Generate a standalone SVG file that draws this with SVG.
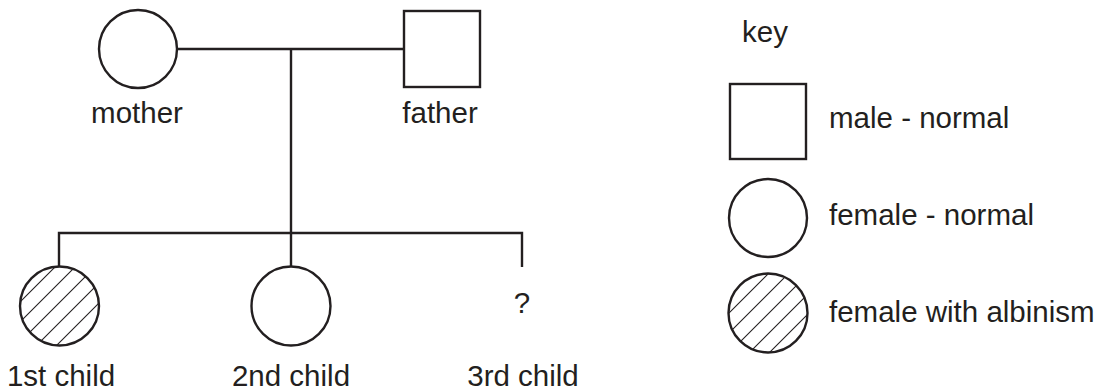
<svg xmlns="http://www.w3.org/2000/svg" width="1100" height="392" viewBox="0 0 1100 392">
<style>
.sym{fill:#fff;stroke:#231f20;stroke-width:2.4}
.hatch{fill:url(#hatch);stroke:#231f20;stroke-width:2.4}
.conn{fill:none;stroke:#231f20;stroke-width:2.4}
text{font-family:"Liberation Sans",Arial,sans-serif;font-size:29.5px;fill:#231f20}
</style>
<defs>
<pattern id="hatch" patternUnits="userSpaceOnUse" width="20" height="20" x="2" y="0">
<rect width="20" height="20" fill="#fff"/>
<path d="M-4,4 L4,-4 M0,20 L20,0 M16,24 L24,16" stroke="#231f20" stroke-width="1.1"/>
</pattern>
</defs>
<rect width="1100" height="392" fill="#fff"/>
<g id="connectors">
<path class="conn" d="M177,49 H404"/>
<path class="conn" d="M291,49 V233"/>
<path class="conn" d="M59,267 V233 H522 V267"/>
<path class="conn" d="M291,233 V267"/>
</g>
<g id="mother">
<circle class="sym" cx="138" cy="49" r="39"/>
<text x="137" y="123" text-anchor="middle">mother</text>
</g>
<g id="father">
<rect class="sym" x="404" y="11" width="76" height="76"/>
<text x="440" y="123" text-anchor="middle">father</text>
</g>
<g id="child1">
<circle class="hatch" cx="59.5" cy="306" r="39.5"/>
<text x="61" y="386" text-anchor="middle">1st child</text>
</g>
<g id="child2">
<circle class="sym" cx="291" cy="306" r="39.5"/>
<text x="291" y="386" text-anchor="middle">2nd child</text>
</g>
<g id="child3">
<text x="522" y="313" text-anchor="middle">?</text>
<text x="523" y="386" text-anchor="middle">3rd child</text>
</g>
<g id="key">
<text x="742" y="42">key</text>
<rect class="sym" x="730" y="84" width="76" height="75"/>
<text x="829" y="128">male - normal</text>
<circle class="sym" cx="768" cy="218" r="39"/>
<text x="829" y="225">female - normal</text>
<circle class="hatch" cx="768" cy="313" r="39.5"/>
<text x="829" y="322">female with albinism</text>
</g>
</svg>
